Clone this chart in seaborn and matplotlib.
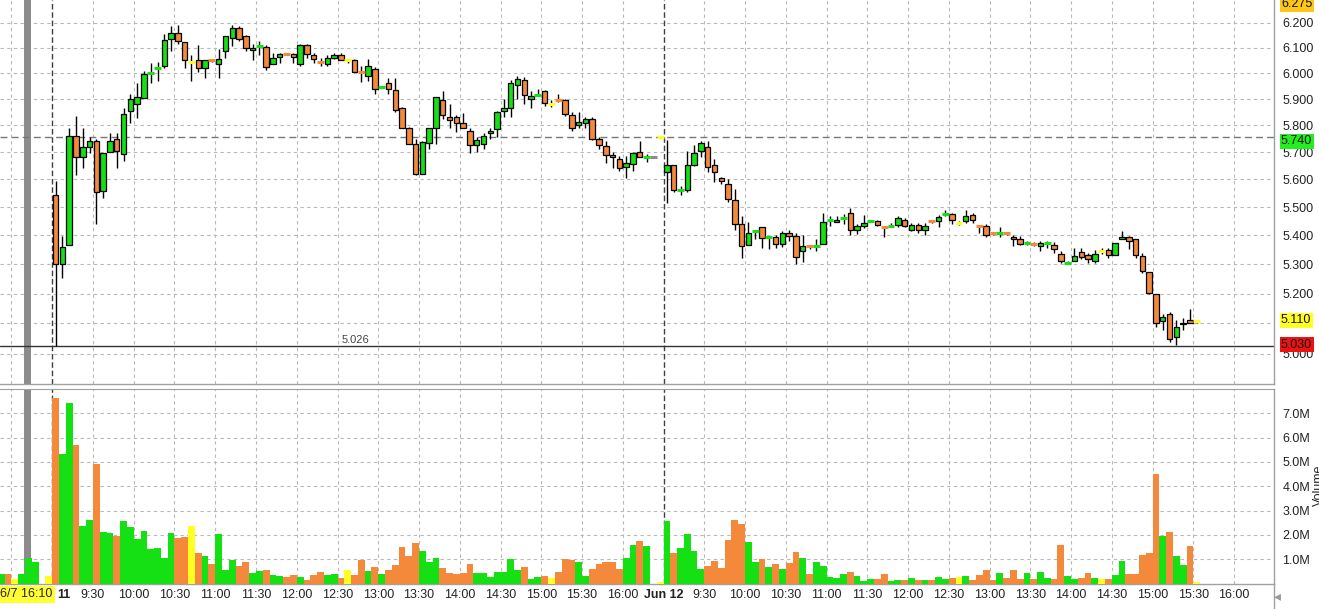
import numpy as np
import pandas as pd
import matplotlib
matplotlib.use("Agg")
import matplotlib.pyplot as plt
import matplotlib.transforms as mtransforms
from matplotlib.lines import Line2D
from matplotlib.ticker import NullLocator
import seaborn as sns

# 5-minute bars.  u = up (green), d = down (orange),
# f = unchanged (yellow), n = no trade (grey)

# tail of the previous session (volume only)
pre_vol = [0.38, 0.38, 0.18, 0.38, 1.05, 0.88, 0.00, 0.30]
pre_dir = list("udfuuuuf")

# day 1 (Jun 11), 9:00 - 16:30
day1_open = [5.545, 5.300, 5.365, 5.760, 5.681, 5.719, 5.740, 5.557, 5.700, 5.750,
             5.692, 5.854, 5.880, 5.904, 6.000, 6.020, 6.030, 6.136, 6.160, 6.124,
             6.042, 6.050, 6.020, 6.050, 6.035, 6.088, 6.140, 6.180, 6.148, 6.092,
             6.108, 6.104, 6.035, 6.064, 6.076, 6.076, 6.035, 6.112, 6.072, 6.042,
             6.035, 6.060, 6.072, 6.050, 6.050, 6.005, 5.988, 6.018, 5.948, 5.962,
             5.935, 5.864, 5.790, 5.730, 5.620, 5.735, 5.790, 5.896, 5.830, 5.830,
             5.810, 5.780, 5.726, 5.730, 5.772, 5.785, 5.854, 5.866, 5.955, 5.973,
             5.900, 5.917, 5.930, 5.880, 5.896, 5.896, 5.838, 5.800, 5.810, 5.826,
             5.750, 5.722, 5.689, 5.674, 5.645, 5.655, 5.700, 5.681, 5.681, 5.755]
day1_high = [5.593, 5.397, 5.790, 5.835, 5.790, 5.755, 5.750, 5.696, 5.770, 5.770,
             5.866, 5.920, 5.960, 6.008, 6.040, 6.045, 6.156, 6.188, 6.192, 6.124,
             6.070, 6.110, 6.050, 6.052, 6.096, 6.148, 6.192, 6.188, 6.152, 6.116,
             6.128, 6.112, 6.080, 6.080, 6.076, 6.080, 6.116, 6.116, 6.080, 6.060,
             6.070, 6.080, 6.080, 6.055, 6.055, 6.030, 6.054, 6.025, 5.952, 5.980,
             5.980, 5.870, 5.795, 5.750, 5.740, 5.790, 5.908, 5.930, 5.880, 5.840,
             5.845, 5.790, 5.755, 5.770, 5.790, 5.854, 5.900, 5.972, 5.990, 5.985,
             5.930, 5.940, 5.935, 5.896, 5.920, 5.900, 5.850, 5.850, 5.830, 5.830,
             5.755, 5.740, 5.700, 5.685, 5.685, 5.700, 5.742, 5.695, 5.681, 5.755]
day1_low = [5.026, 5.253, 5.365, 5.615, 5.641, 5.696, 5.440, 5.534, 5.700, 5.641,
            5.667, 5.808, 5.827, 5.904, 5.960, 5.970, 6.020, 6.088, 6.116, 6.020,
            5.970, 6.004, 5.980, 6.045, 5.980, 6.060, 6.108, 6.125, 6.088, 6.050,
            6.070, 6.012, 6.035, 6.040, 6.070, 6.040, 6.030, 6.060, 6.040, 6.030,
            6.030, 6.055, 6.050, 6.040, 6.005, 5.965, 5.970, 5.920, 5.944, 5.920,
            5.850, 5.790, 5.730, 5.615, 5.620, 5.713, 5.730, 5.826, 5.790, 5.775,
            5.790, 5.696, 5.700, 5.713, 5.750, 5.755, 5.830, 5.830, 5.900, 5.880,
            5.866, 5.912, 5.872, 5.868, 5.890, 5.835, 5.780, 5.790, 5.790, 5.745,
            5.713, 5.660, 5.641, 5.630, 5.604, 5.630, 5.681, 5.665, 5.681, 5.755]
day1_close = [5.300, 5.358, 5.760, 5.681, 5.719, 5.740, 5.555, 5.696, 5.740, 5.704,
              5.843, 5.900, 5.908, 5.996, 6.000, 6.020, 6.132, 6.160, 6.128, 6.050,
              6.042, 6.020, 6.050, 6.050, 6.055, 6.148, 6.180, 6.136, 6.100, 6.100,
              6.108, 6.025, 6.060, 6.076, 6.076, 6.064, 6.112, 6.076, 6.055, 6.042,
              6.060, 6.070, 6.050, 6.050, 6.005, 6.005, 6.030, 5.940, 5.948, 5.940,
              5.857, 5.792, 5.730, 5.620, 5.737, 5.790, 5.908, 5.840, 5.822, 5.810,
              5.790, 5.726, 5.745, 5.760, 5.780, 5.850, 5.866, 5.962, 5.978, 5.916,
              5.912, 5.917, 5.884, 5.880, 5.896, 5.843, 5.792, 5.812, 5.826, 5.750,
              5.726, 5.689, 5.681, 5.640, 5.660, 5.696, 5.681, 5.681, 5.681, 5.755]
day1_vol = [7.64, 5.32, 7.43, 5.69, 2.36, 2.61, 4.91, 2.11, 2.06, 1.95,
            2.56, 2.33, 1.82, 2.15, 1.41, 1.47, 1.03, 2.06, 1.88, 1.90,
            2.36, 1.25, 1.14, 0.81, 2.02, 0.56, 0.96, 0.74, 0.88, 0.45,
            0.51, 0.55, 0.34, 0.31, 0.25, 0.34, 0.26, 0.14, 0.34, 0.47,
            0.34, 0.38, 0.22, 0.55, 0.34, 0.96, 0.51, 0.67, 0.38, 0.55,
            0.75, 1.49, 1.14, 1.66, 1.33, 0.90, 1.04, 0.63, 0.42, 0.38,
            0.45, 0.79, 0.42, 0.42, 0.25, 0.47, 0.47, 1.01, 0.55, 0.67,
            0.20, 0.26, 0.30, 0.22, 0.47, 1.01, 0.96, 0.88, 0.30, 0.59,
            0.79, 0.88, 0.88, 0.59, 1.04, 1.58, 1.74, 1.53, 0.00, 0.05]
day1_dir = list("duuduuduud" "uuuuuuuudd" "fduduuuddu" "uduudduddd" "uudfddudud"
                "dddduuuddd" "dduuuuuuud" "uudfddduud" "dddduudunf")

# day 2 (Jun 12)
day2_open = [5.626, 5.653, 5.560, 5.560, 5.653, 5.705, 5.720, 5.653, 5.604, 5.585,
             5.527, 5.441, 5.366, 5.414, 5.428, 5.393, 5.393, 5.369, 5.407, 5.397,
             5.345, 5.362, 5.362, 5.369, 5.455, 5.448, 5.462, 5.480, 5.420, 5.434,
             5.452, 5.452, 5.430, 5.434, 5.438, 5.455, 5.420, 5.438, 5.420, 5.452,
             5.452, 5.475, 5.477, 5.445, 5.452, 5.472, 5.434, 5.434, 5.407, 5.410,
             5.407, 5.393, 5.387, 5.372, 5.369, 5.362, 5.372, 5.366, 5.337, 5.303,
             5.310, 5.341, 5.331, 5.310, 5.345, 5.348, 5.331, 5.387, 5.393, 5.387,
             5.327, 5.273, 5.200, 5.107, 5.130, 5.057, 5.097, 5.113, 5.107]
day2_high = [5.744, 5.653, 5.575, 5.705, 5.728, 5.742, 5.740, 5.674, 5.610, 5.600,
             5.565, 5.468, 5.448, 5.420, 5.430, 5.397, 5.400, 5.414, 5.420, 5.410,
             5.400, 5.366, 5.386, 5.480, 5.468, 5.468, 5.475, 5.497, 5.440, 5.472,
             5.455, 5.456, 5.434, 5.445, 5.470, 5.462, 5.445, 5.445, 5.445, 5.456,
             5.472, 5.490, 5.480, 5.452, 5.490, 5.478, 5.438, 5.440, 5.410, 5.428,
             5.410, 5.400, 5.397, 5.380, 5.376, 5.380, 5.380, 5.376, 5.345, 5.310,
             5.355, 5.355, 5.338, 5.348, 5.355, 5.355, 5.372, 5.414, 5.397, 5.387,
             5.338, 5.273, 5.200, 5.130, 5.137, 5.110, 5.117, 5.147, 5.113]
day2_low = [5.514, 5.553, 5.545, 5.553, 5.650, 5.681, 5.626, 5.590, 5.585, 5.520,
            5.420, 5.320, 5.366, 5.386, 5.355, 5.352, 5.355, 5.360, 5.380, 5.300,
            5.307, 5.352, 5.345, 5.369, 5.434, 5.448, 5.440, 5.400, 5.405, 5.425,
            5.448, 5.435, 5.393, 5.428, 5.430, 5.430, 5.415, 5.410, 5.400, 5.445,
            5.430, 5.470, 5.440, 5.438, 5.445, 5.445, 5.410, 5.393, 5.400, 5.393,
            5.400, 5.362, 5.366, 5.366, 5.362, 5.345, 5.355, 5.340, 5.303, 5.300,
            5.310, 5.317, 5.303, 5.303, 5.334, 5.320, 5.331, 5.387, 5.352, 5.320,
            5.270, 5.200, 5.090, 5.080, 5.040, 5.030, 5.080, 5.100, 5.103]
day2_close = [5.653, 5.560, 5.560, 5.653, 5.696, 5.733, 5.646, 5.626, 5.593, 5.530,
              5.440, 5.363, 5.407, 5.414, 5.390, 5.393, 5.369, 5.407, 5.397, 5.324,
              5.362, 5.362, 5.362, 5.448, 5.455, 5.455, 5.462, 5.420, 5.434, 5.445,
              5.452, 5.438, 5.430, 5.434, 5.462, 5.434, 5.438, 5.420, 5.434, 5.452,
              5.466, 5.475, 5.455, 5.445, 5.469, 5.455, 5.434, 5.403, 5.407, 5.410,
              5.407, 5.387, 5.369, 5.372, 5.369, 5.372, 5.372, 5.352, 5.310, 5.303,
              5.327, 5.324, 5.317, 5.337, 5.345, 5.331, 5.372, 5.393, 5.380, 5.331,
              5.277, 5.203, 5.103, 5.120, 5.050, 5.087, 5.103, 5.103, 5.107]
day2_vol = [2.56, 1.25, 1.45, 2.05, 1.33, 0.59, 0.71, 0.92, 0.63, 1.78,
            2.60, 2.44, 1.70, 0.88, 1.01, 0.67, 0.79, 0.59, 0.84, 1.29,
            1.04, 0.38, 0.88, 0.71, 0.26, 0.22, 0.38, 0.47, 0.30, 0.10,
            0.18, 0.18, 0.38, 0.10, 0.14, 0.14, 0.22, 0.14, 0.14, 0.14,
            0.26, 0.18, 0.22, 0.26, 0.30, 0.14, 0.34, 0.55, 0.14, 0.42,
            0.22, 0.55, 0.18, 0.42, 0.18, 0.47, 0.22, 0.18, 1.58, 0.30,
            0.18, 0.22, 0.42, 0.22, 0.18, 0.18, 0.34, 0.92, 0.38, 0.38,
            1.16, 1.25, 4.50, 1.95, 2.11, 1.12, 0.75, 1.53, 0.05]
day2_dir = list("uduuuudddd" "dduudududd" "uduuuuuduu" "udduududud" "uudfuddddu"
                "ddduduuddu" "uddufduudd" "ddduduudf")

# axis text
time_labels = ["9:30", "10:00", "10:30", "11:00", "11:30", "12:00", "12:30",
               "13:00", "13:30", "14:00", "14:30", "15:00", "15:30", "16:00"]
price_ticks = [5.0, 5.1, 5.2, 5.3, 5.4, 5.5, 5.6, 5.7, 5.8, 5.9, 6.0, 6.1, 6.2]
vol_ticks = [1, 2, 3, 4, 5, 6, 7]
price_tags = [6.275, 5.740, 5.110, 5.030]
tag_colors = ["#ffc61a", "#22ee22", "#ffff22", "#ee1111"]
day1_low_mark = 5.026
ref_level = 5.757

colors = {"u": "#14e014", "d": "#f4893c", "f": "#ffff22", "n": "#8c8c8c"}

n_pre = len(pre_vol)
nan_pre = [np.nan] * n_pre
bars = pd.DataFrame({
    "idx": np.arange(-n_pre, len(day1_open) + len(day2_open)),
    "open": nan_pre + day1_open + day2_open,
    "high": nan_pre + day1_high + day2_high,
    "low": nan_pre + day1_low + day2_low,
    "close": nan_pre + day1_close + day2_close,
    "vol": pre_vol + day1_vol + day2_vol,
    "dir": pre_dir + day1_dir + day2_dir,
})
bars["x"] = bars["idx"] + 0.5
session_len = len(day1_open)

sns.set_style("white")
plt.rcParams["font.family"] = ["Liberation Sans", "DejaVu Sans"]

W, H = 1319, 609
fig = plt.figure(figsize=(W / 100, H / 100), dpi=100)
ax = fig.add_axes([0, 1 - 384 / H, 1274 / W, 384 / H])
axv = fig.add_axes([0, 1 - 583.5 / H, 1274 / W, (583.5 - 389) / H])

# candles
cnd = bars.dropna(subset=["open"])
ax.vlines(cnd["x"], cnd["low"], cnd["high"], color="black", lw=1, zorder=3)
body = cnd[cnd["open"] != cnd["close"]]
ax.bar(body["x"], body["close"] - body["open"], bottom=body["open"], width=0.8,
       color=list(body["dir"].map(colors)), edgecolor="black", linewidth=0.9, zorder=4)
flat = cnd[cnd["open"] == cnd["close"]]
ax.hlines(flat["open"], flat["x"] - 0.5, flat["x"] + 0.5,
          colors=list(flat["dir"].map(colors)), lw=2.2, zorder=5)

# volume
sns.barplot(data=bars, x="x", y="vol", hue="dir", palette=colors, native_scale=True,
            width=1.0, dodge=False, errorbar=None, legend=False, saturation=1,
            linewidth=0, edgecolor="none", ax=axv, zorder=3)

# grid, session breaks and the grey marker
grid_idx = [-6] + list(range(6, session_len - 5, 6)) + list(range(session_len + 6, 175, 6))
for a in (ax, axv):
    for g in grid_idx:
        a.axvline(g, color="#b8b8b8", lw=0.8, ls=(0, (3, 3)), zorder=1)
    for s in (0, session_len):
        a.axvline(s, color="#404040", lw=1, ls=(0, (4, 2)), zorder=2)
    a.axvspan(-4.15, -3.15, color="#8c8c8c", lw=0, zorder=2)
    a.set_xlim(-7.69, 179.88)
    for s in ("left", "top"):
        a.spines[s].set_visible(False)
    for s in ("right", "bottom"):
        a.spines[s].set_color("#a0a0a0")
        a.spines[s].set_linewidth(1)
axv.spines["top"].set_visible(True)
axv.spines["top"].set_color("#a0a0a0")

ax.axhline(day1_low_mark, color="#333333", lw=1, zorder=2.5)
ax.axhline(ref_level, color="#777777", lw=1, ls=(0, (5, 3)), zorder=2.5)
ax.text(44.7, 5.047, f"{day1_low_mark:.3f}", fontsize=8, color="#444444",
        ha="center", va="center")

# price axis
ax.set_yscale("log")
ax.set_ylim(4.9035, 6.292)
ax.set_yticks(price_ticks)
ax.set_yticklabels([f"{t:.3f}" for t in price_ticks])
ax.yaxis.set_minor_locator(NullLocator())
ax.yaxis.tick_right()
ax.tick_params(axis="y", which="both", length=0, pad=6, labelsize=9, colors="#222222")
ax.yaxis.grid(True, color="#b8b8b8", lw=0.8, ls=(0, (3, 3)))
ax.set_axisbelow(True)
ax.set_xticks([])

trans = mtransforms.blended_transform_factory(ax.transAxes, ax.transData)
for val, col in zip(price_tags, tag_colors):
    ax.text(1281 / 1274, val, f"{val:.3f}", transform=trans, ha="left", va="center",
            fontsize=9, color="#111111", zorder=10, clip_on=False,
            bbox=dict(boxstyle="square,pad=0.12", fc=col, ec="none"))

# volume axis
axv.set_ylim(0, 8.0)
axv.set_yticks(vol_ticks)
axv.set_yticklabels([f"{v:.1f}M" for v in vol_ticks])
axv.yaxis.tick_right()
axv.yaxis.grid(True, color="#b8b8b8", lw=0.8, ls=(0, (3, 3)))
axv.set_axisbelow(True)
axv.set_xlabel("")
axv.set_ylabel("")
xt = [1.73] + list(range(6, session_len - 5, 6)) + [session_len] + list(range(session_len + 6, 175, 6))
xl = ["11"] + time_labels + ["Jun 12"] + time_labels
axv.set_xticks(xt)
axv.set_xticklabels(xl)
axv.tick_params(axis="x", length=0, pad=4, labelsize=9, colors="#222222")
axv.tick_params(axis="y", length=0, pad=6, labelsize=9, colors="#222222")
for lab in axv.get_xticklabels():
    if lab.get_text() in ("11", "Jun 12"):
        lab.set_fontweight("bold")

fig.text(26 / W, 1 - 594 / H, "6/7 16:10", ha="center", va="center", fontsize=9,
         bbox=dict(boxstyle="square,pad=0.2", fc="#ffff33", ec="none"))
fig.text(1.0, 1 - 485 / H, "Volume", rotation=90, ha="center", va="center", fontsize=9)
fig.text(1277 / W, 1 - 596 / H, "\u25c2", color="#999999", fontsize=10,
         ha="center", va="center", family="DejaVu Sans")
fig.add_artist(Line2D([1274 / W, 1274 / W], [0, 1 - 583.5 / H], color="#a0a0a0", lw=1))

fig.savefig("out.png", dpi=100)
